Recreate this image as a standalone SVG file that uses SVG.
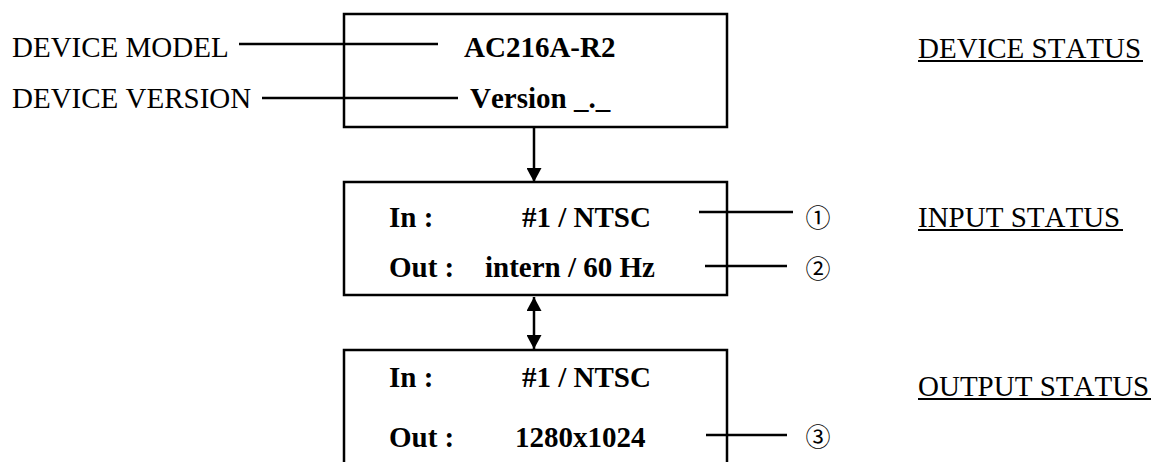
<svg xmlns="http://www.w3.org/2000/svg" width="1155" height="462" viewBox="0 0 1155 462">
<defs>
<style>
.lbl{font-family:"Liberation Serif","Times New Roman",serif;font-size:29px;fill:#000;font-kerning:none}
.b{font-family:"Liberation Serif","Times New Roman",serif;font-size:29px;font-weight:bold;fill:#000;font-kerning:none}
.num{font-family:"Noto Sans CJK JP","DejaVu Sans",sans-serif;font-size:25px;fill:#000}
.box{fill:none;stroke:#000;stroke-width:2.5}
.ln{stroke:#000;stroke-width:2.5;fill:none}
.ul{stroke:#000;stroke-width:2}
</style>
<marker id="ah" viewBox="0 0 14 15" refX="14" refY="7.5" markerWidth="14" markerHeight="15" markerUnits="userSpaceOnUse" orient="auto-start-reverse">
<path d="M0,0 L14,7.5 L0,15 Z" fill="#000"/>
</marker>
</defs>
<rect width="1155" height="462" fill="#fff"/>

<g id="device-box">
<rect class="box" x="344" y="14" width="383" height="113"/>
<text class="b" x="464" y="57">AC216A-R2</text>
<text class="b" x="470" y="108">Version _._</text>
</g>

<g id="input-box">
<rect class="box" x="344" y="182" width="383" height="113"/>
<text class="b" x="389" y="227">In :</text>
<text class="b" x="522" y="227">#1 / NTSC</text>
<text class="b" x="389" y="277">Out :</text>
<text class="b" x="485" y="277">intern / 60 Hz</text>
</g>

<g id="output-box">
<path class="box" d="M344,470 L344,350 L727,350 L727,470"/>
<text class="b" x="389" y="387">In :</text>
<text class="b" x="522" y="387">#1 / NTSC</text>
<text class="b" x="389" y="447">Out :</text>
<text class="b" x="515" y="447">1280x1024</text>
</g>

<g id="labels">
<text class="lbl" x="12" y="57">DEVICE MODEL</text>
<text class="lbl" x="12" y="108">DEVICE VERSION</text>
<text class="num" x="818" y="216" text-anchor="middle" dominant-baseline="central">①</text>
<text class="num" x="818" y="267" text-anchor="middle" dominant-baseline="central">②</text>
<text class="num" x="818" y="435" text-anchor="middle" dominant-baseline="central">③</text>
</g>

<g id="status-titles">
<text class="lbl" x="918" y="58">DEVICE STATUS</text>
<line class="ul" x1="918" y1="61" x2="1143" y2="61"/>
<text class="lbl" x="918" y="227">INPUT STATUS</text>
<line class="ul" x1="918" y1="230" x2="1123" y2="230"/>
<text class="lbl" x="918" y="396">OUTPUT STATUS</text>
<line class="ul" x1="918" y1="399" x2="1151" y2="399"/>
</g>

<g id="connectors">
<line class="ln" x1="239" y1="44" x2="438" y2="44"/>
<line class="ln" x1="262" y1="98" x2="458" y2="98"/>
<line class="ln" x1="699" y1="212" x2="793" y2="212"/>
<line class="ln" x1="705" y1="266" x2="787" y2="266"/>
<line class="ln" x1="706" y1="435" x2="787" y2="435"/>
<line class="ln" x1="534" y1="127" x2="534" y2="182" marker-end="url(#ah)"/>
<line class="ln" x1="534" y1="297" x2="534" y2="349" marker-start="url(#ah)" marker-end="url(#ah)"/>
</g>
</svg>
